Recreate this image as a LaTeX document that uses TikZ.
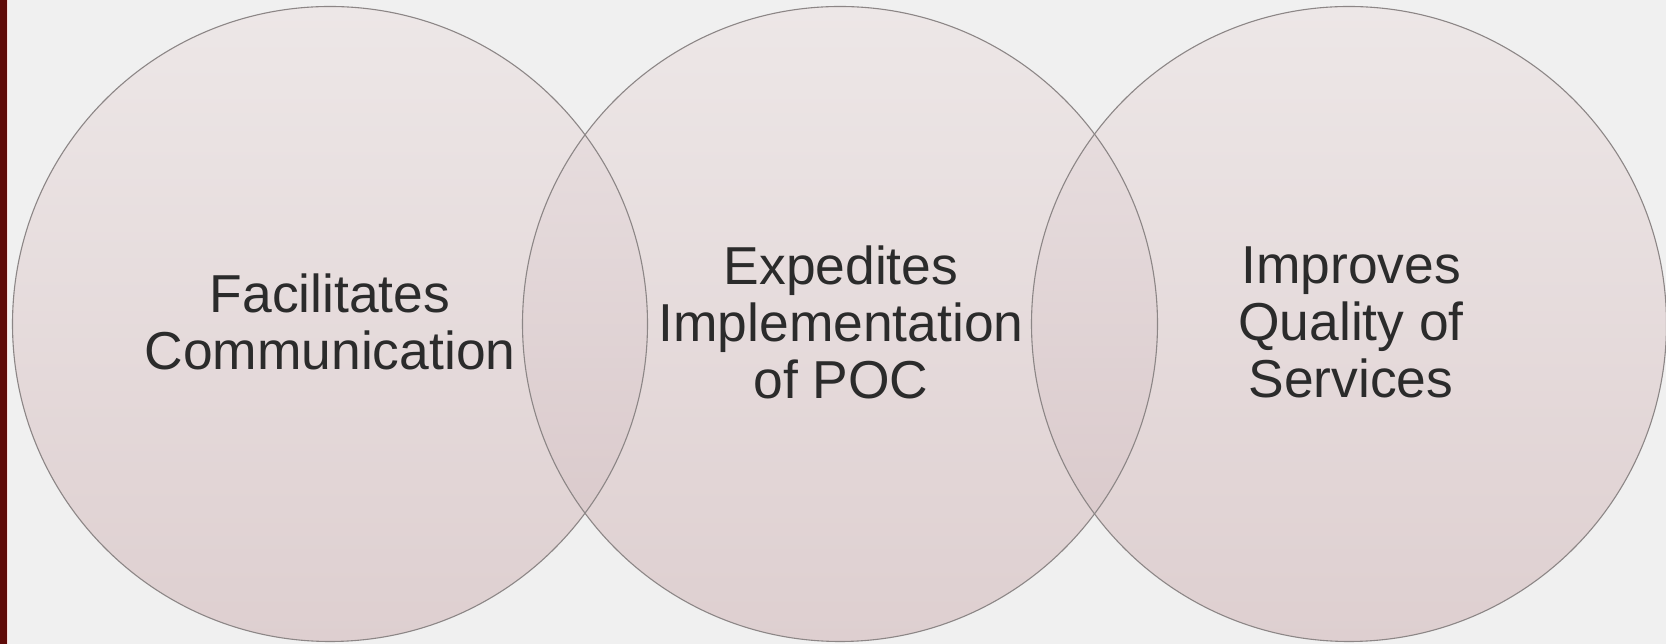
\documentclass[tikz,border=0pt]{standalone}
\usepackage{fontspec}
\setmainfont{Liberation Sans}
\definecolor{bg}{RGB}{240,240,240}
\definecolor{barred}{RGB}{95,10,8}
\definecolor{ctop}{RGB}{237,231,231}
\definecolor{cbot}{RGB}{222,207,208}
\definecolor{otop}{RGB}{234,226,227}
\definecolor{obot}{RGB}{215,197,199}
\definecolor{edge}{RGB}{140,134,134}
\definecolor{txt}{RGB}{43,43,43}
\begin{document}
\begin{tikzpicture}[x=1pt,y=1pt,
  bubble/.style={circle,minimum size=635pt,inner sep=0pt,top color=ctop,bottom color=cbot},
  rim/.style={draw=edge,line width=1.1pt},
  label/.style={align=center,text=txt,font=\fontsize{53.4}{57}\selectfont,inner sep=0pt}]
\useasboundingbox (0,0) rectangle (1666,644);
\fill[bg] (0,0) rectangle (1666,644);
\fill[barred] (0,0) rectangle (7,644);
\fill[red!20!white,opacity=0.6] (7,0) rectangle (8,644);
% circles
\node[bubble] (c1) at (330,320) {};
\node[bubble] (c2) at (840,320) {};
\node[bubble] (c3) at (1349,320) {};
% overlaps
\begin{scope}
  \clip (330,320) circle (317.5);
  \shade[top color=otop,bottom color=obot] (840,320) circle (317.5);
\end{scope}
\begin{scope}
  \clip (840,320) circle (317.5);
  \shade[top color=otop,bottom color=obot] (1349,320) circle (317.5);
\end{scope}
% rims
\draw[rim] (330,320) circle (317.5);
\draw[rim] (840,320) circle (317.5);
\draw[rim] (1349,320) circle (317.5);
% texts
\node[label] (t1) at (330,322) {Facilitates\\Communication};
\node[label] (t2) at (841,322) {Expedites\\Implementation\\of POC};
\node[label] (t3) at (1351,322) {Improves\\Quality of\\Services};
\end{tikzpicture}
\end{document}
